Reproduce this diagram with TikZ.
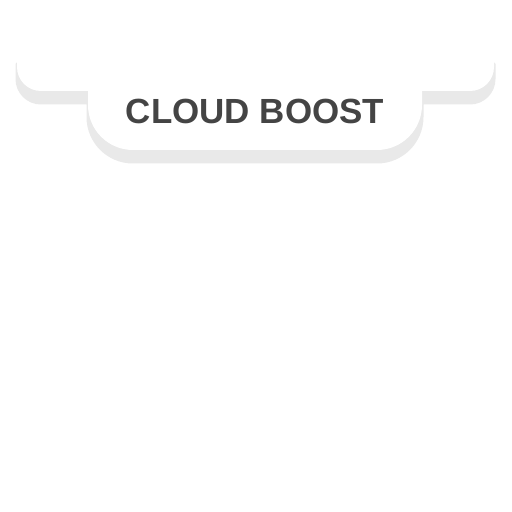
\documentclass[tikz,border=0pt]{standalone}
\usepackage{fontspec}
\setmainfont{Liberation Sans}
\definecolor{titlegray}{RGB}{68,68,68}
\definecolor{shadowgray}{RGB}{233,233,233}
\newcommand{\bannerpath}{(17,460) -- (17,445) arc[start angle=180, end angle=270, radius=18pt] -- (88,421) -- (88,407) arc[start angle=180, end angle=270, radius=33.75pt] -- (377,362) arc[start angle=270, end angle=360, radius=33.75pt] -- (422,421) -- (470,421) arc[start angle=270, end angle=360, radius=18pt] -- (494,460) -- cycle}

\begin{document}
\begin{tikzpicture}[x=0.75pt,y=0.75pt,
  shadow/.style={fill=shadowgray, draw=shadowgray, line width=2.25pt, line join=round},
  banner/.style={fill=white},
  title/.style={text=titlegray, font=\fontsize{26.2}{31}\selectfont\bfseries}]
\useasboundingbox (0,0) rectangle (512,512);
\fill[white] (0,0) rectangle (512,512);
\path[shadow, shift={(0,-12)}] \bannerpath;
\path[banner] \bannerpath;
\node[title] (cloudboost) at (255,401) {CLOUD BOOST};
\end{tikzpicture}
\end{document}
